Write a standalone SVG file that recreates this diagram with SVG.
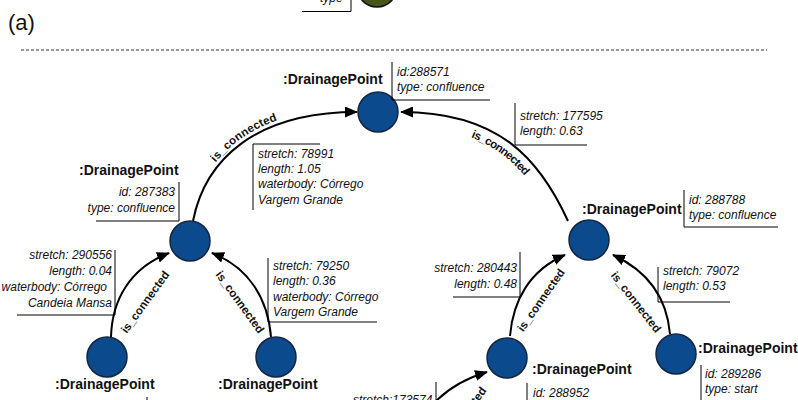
<svg xmlns="http://www.w3.org/2000/svg" width="798" height="400" viewBox="0 0 798 400">
<style>
.node{fill:#0b4a8c;stroke:#15253f;stroke-width:1.5}
.lbl{font-family:"Liberation Sans",Arial,sans-serif;font-weight:bold;font-size:14px;fill:#111}
.attr{font-family:"Liberation Sans",Arial,sans-serif;font-style:italic;font-size:12px;fill:#111}
.rel{font-family:"Liberation Sans",Arial,sans-serif;font-weight:bold;font-size:11.5px;fill:#111}
.br{stroke:#000;stroke-width:1;fill:none}
.edge{stroke:#000;stroke-width:2;fill:none;marker-end:url(#arr)}
.r{text-anchor:end}
</style>
<defs>
<marker id="arr" markerUnits="userSpaceOnUse" markerWidth="13" markerHeight="11" viewBox="0 0 13 11" refX="12" refY="5.5" orient="auto">
<path d="M0,0 L13,5.5 L0,11 z" fill="#000"/>
</marker>
<path id="tp1" d="M193,221 C205,160 255,112 357,112"/>
<path id="tp2" d="M401,112 C500,112 540,160 568,221"/>
</defs>

<text x="8" y="30" style="font-family:'Liberation Sans',Arial,sans-serif;font-size:22px;fill:#111">(a)</text>
<line x1="21" y1="50" x2="767" y2="50" stroke="#333" stroke-width="1" stroke-dasharray="3 2"/>

<g id="top-partial">
<circle cx="377" cy="-13" r="20" fill="#46561a" stroke="#111" stroke-width="1.5"/>
<text class="attr" x="320" y="2">type</text>
<path class="br" d="M302,11.5 H351 V0"/>
</g>

<g id="connectors">
<path class="edge" d="M193,221 C205,160 255,112 357,112"/>
<path class="edge" d="M568,221 C540,160 500,112 401,112"/>
<path class="edge" d="M111,337 C112,300 130,268 169,253"/>
<path class="edge" d="M271,337 C268,300 250,268 212,253"/>
<path class="edge" d="M510,336 C513,300 530,270 565,255"/>
<path class="edge" d="M670,334 C667,300 650,272 613,255"/>
<path class="edge" d="M428,410 C440,395 460,380 487,372"/>
<text class="rel" dy="-4"><textPath href="#tp1" startOffset="46%" text-anchor="middle">is_connected</textPath></text>
<text class="rel" dy="14"><textPath href="#tp2" startOffset="53%" text-anchor="middle">is_connected</textPath></text>
<text class="rel" text-anchor="middle" transform="translate(145,302) rotate(-54)" y="4">is_connected</text>
<text class="rel" text-anchor="middle" transform="translate(240,302) rotate(54)" y="4">is_connected</text>
<text class="rel" text-anchor="middle" transform="translate(541,300) rotate(-55)" y="4">is_connected</text>
<text class="rel" text-anchor="middle" transform="translate(636,302) rotate(52)" y="4">is_connected</text>
<text class="rel" text-anchor="middle" transform="translate(462,418) rotate(-54)" y="4">is_connected</text>
<!-- edge attribute labels -->
<path class="br" d="M320,144 H253 V210"/>
<text class="attr" x="258" y="158">stretch: 78991</text>
<text class="attr" x="258" y="173">length: 1.05</text>
<text class="attr" x="258" y="188">waterbody: Córrego</text>
<text class="attr" x="258" y="204">Vargem Grande</text>
<path class="br" d="M515,103 V145 H587"/>
<text class="attr" x="520" y="120">stretch: 177595</text>
<text class="attr" x="520" y="135">length: 0.63</text>
<path class="br" d="M115,250 V315 H17"/>
<text class="attr r" x="112" y="259">stretch: 290556</text>
<text class="attr r" x="112" y="275">length: 0.04</text>
<text class="attr r" x="107" y="291">waterbody: Córrego</text>
<text class="attr r" x="112" y="307">Candeia Mansa</text>
<path class="br" d="M268,258 V322 H377"/>
<text class="attr" x="273" y="270">stretch: 79250</text>
<text class="attr" x="273" y="285">length: 0.36</text>
<text class="attr" x="273" y="301">waterbody: Córrego</text>
<text class="attr" x="273" y="316">Vargem Grande</text>
<path class="br" d="M520,252 V297 H453"/>
<text class="attr r" x="517" y="272">stretch: 280443</text>
<text class="attr r" x="517" y="288">length: 0.48</text>
<path class="br" d="M658,267 V302 H730"/>
<text class="attr" x="663" y="275">stretch: 79072</text>
<text class="attr" x="663" y="290">length: 0.53</text>
<path class="br" d="M436,382 V400"/>
<text class="attr" x="353" y="404">stretch:173574</text>
</g>

<g id="n288571">
<circle class="node" cx="378" cy="112" r="20"/>
<text class="lbl" x="283" y="84">:DrainagePoint</text>
<path class="br" d="M392,62 V100 H490"/>
<text class="attr" x="397" y="76">id:288571</text>
<text class="attr" x="397" y="91">type: confluence</text>
</g>

<g id="n287383">
<circle class="node" cx="190" cy="241" r="20"/>
<text class="lbl" x="79" y="175">:DrainagePoint</text>
<path class="br" d="M179,182 V221 H96"/>
<text class="attr r" x="175" y="196">id: 287383</text>
<text class="attr r" x="175" y="212">type: confluence</text>
</g>

<g id="n288788">
<circle class="node" cx="589" cy="240" r="20"/>
<text class="lbl" x="582" y="214">:DrainagePoint</text>
<path class="br" d="M684,190 V227 H778"/>
<text class="attr" x="689" y="204">id: 288788</text>
<text class="attr" x="689" y="219">type: confluence</text>
</g>

<g id="n-bottom-left">
<circle class="node" cx="107" cy="357" r="20"/>
<text class="lbl" x="55" y="389">:DrainagePoint</text>
<path class="br" d="M147,397 V400"/>
</g>

<g id="n-bottom-midleft">
<circle class="node" cx="276" cy="357" r="20"/>
<text class="lbl" x="218" y="389">:DrainagePoint</text>
</g>

<g id="n288952">
<circle class="node" cx="507" cy="358" r="20"/>
<text class="lbl" x="532" y="374">:DrainagePoint</text>
<path class="br" d="M527,383 V400"/>
<text class="attr" x="533" y="397">id: 288952</text>
</g>

<g id="n289286">
<circle class="node" cx="676" cy="354" r="20"/>
<text class="lbl" x="698" y="353">:DrainagePoint</text>
<path class="br" d="M701,365 V400"/>
<text class="attr" x="705" y="378">id: 289286</text>
<text class="attr" x="705" y="393">type: start</text>
</g>
</svg>
